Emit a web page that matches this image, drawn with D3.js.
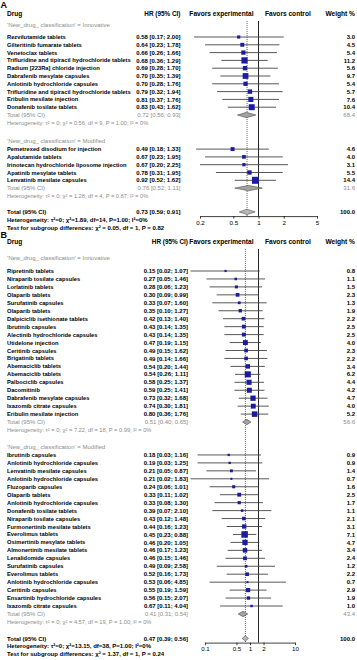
<!DOCTYPE html>
<html>
<head>
<meta charset="utf-8">
<script src="https://cdn.jsdelivr.net/npm/d3@7"></script>
<style>
  body { margin: 0; background: #fff; }
  text { font-family: "Liberation Sans", Arial, sans-serif; }
</style>
</head>
<body>
<svg id="chart" width="357" height="660"></svg>
<script>
// Rows are [drug, HR, lower, upper, weight %].
const aInnovative = [
  ["Rezvilutamide tablets", 0.58, 0.17, 2.00, 3.0],
  ["Gilteritinib fumarate tablets", 0.64, 0.23, 1.78, 4.5],
  ["Venetoclax tablets", 0.66, 0.26, 1.66, 5.4],
  ["Trifluridine and tipiracil hydrochloride tablets", 0.68, 0.36, 1.29, 11.2],
  ["Radium [223Ra] chloride injection", 0.69, 0.28, 1.70, 5.6],
  ["Dabrafenib mesylate capsules", 0.70, 0.35, 1.39, 9.7],
  ["Anlotinib hydrochloride capsules", 0.70, 0.28, 1.76, 5.4],
  ["Trifluridine and tipiracil hydrochloride tablets", 0.79, 0.32, 1.94, 5.7],
  ["Eribulin mesilate injection", 0.81, 0.37, 1.76, 7.6],
  ["Donafenib tosilate tablets", 0.83, 0.43, 1.62, 10.4]
];
const aModified = [
  ["Pemetrexed disodium for injection", 0.49, 0.18, 1.33, 4.6],
  ["Apalutamide tablets", 0.67, 0.23, 1.95, 4.0],
  ["Irinotecan hydrochloride liposome injection", 0.67, 0.20, 2.25, 3.1],
  ["Apatinib mesylate tablets", 0.78, 0.31, 1.95, 5.5],
  ["Lenvatinib mesilate capsules", 0.92, 0.52, 1.62, 14.4]
];
const bInnovative = [
  ["Ripretinib tablets", 0.15, 0.02, 1.07, 0.8],
  ["Niraparib tosilate capsules", 0.27, 0.05, 1.46, 1.1],
  ["Lorlatinib tablets", 0.28, 0.06, 1.23, 1.5],
  ["Olaparib tablets", 0.30, 0.09, 0.99, 2.3],
  ["Surufatinib capsules", 0.33, 0.07, 1.60, 1.3],
  ["Olaparib tablets", 0.35, 0.10, 1.27, 1.9],
  ["Dalpiciclib isethionate tablets", 0.42, 0.13, 1.40, 2.2],
  ["Ibrutinib capsules", 0.43, 0.14, 1.35, 2.5],
  ["Alectinib hydrochloride capsules", 0.43, 0.14, 1.35, 2.5],
  ["Utidelone injection", 0.47, 0.19, 1.15, 4.0],
  ["Ceritinib capsules", 0.49, 0.15, 1.62, 2.3],
  ["Brigatinib tablets", 0.49, 0.14, 1.66, 2.2],
  ["Abemaciclib tablets", 0.54, 0.20, 1.44, 3.4],
  ["Abemaciclib tablets", 0.54, 0.26, 1.11, 6.2],
  ["Palbociclib capsules", 0.58, 0.25, 1.37, 4.4],
  ["Dacomitinib", 0.59, 0.25, 1.41, 4.2],
  ["Dabrafenib mesylate capsules", 0.73, 0.32, 1.68, 4.7],
  ["Ixazomib citrate capsules", 0.74, 0.30, 1.81, 4.0],
  ["Eribulin mesilate injection", 0.80, 0.36, 1.76, 5.2]
];
const bModified = [
  ["Ibrutinib capsules", 0.18, 0.03, 1.16, 0.9],
  ["Anlotinib hydrochloride capsules", 0.19, 0.03, 1.25, 0.9],
  ["Lenvatinib mesilate capsules", 0.21, 0.05, 0.87, 1.4],
  ["Anlotinib hydrochloride capsules", 0.21, 0.02, 1.83, 0.7],
  ["Fluzoparib capsules", 0.24, 0.06, 1.01, 1.6],
  ["Olaparib tablets", 0.33, 0.11, 1.02, 2.5],
  ["Anlotinib hydrochloride capsules", 0.33, 0.08, 1.30, 1.7],
  ["Donafenib tosilate tablets", 0.39, 0.07, 2.10, 1.1],
  ["Niraparib tosilate capsules", 0.43, 0.12, 1.48, 2.1],
  ["Furmonertinib mesilate tablets", 0.44, 0.16, 1.23, 3.1],
  ["Everolimus tablets", 0.45, 0.23, 0.88, 7.1],
  ["Osimertinib mesylate tablets", 0.46, 0.20, 1.05, 4.7],
  ["Almonertinib mesilate tablets", 0.46, 0.17, 1.23, 3.4],
  ["Lenalidomide capsules", 0.46, 0.15, 1.46, 2.4],
  ["Surufatinib capsules", 0.49, 0.09, 2.58, 1.2],
  ["Everolimus tablets", 0.52, 0.16, 1.73, 2.2],
  ["Anlotinib hydrochloride capsules", 0.53, 0.06, 4.85, 0.7],
  ["Ceritinib capsules", 0.55, 0.19, 1.59, 2.9],
  ["Ensartinib hydrochloride capsules", 0.56, 0.15, 2.07, 1.9],
  ["Ixazomib citrate capsules", 0.67, 0.11, 4.04, 1.0]
];

// Pooled estimates: [HR, lower, upper, weight %].
const aTotals = [[0.72, 0.56, 0.93, 68.4], [0.76, 0.52, 1.11, 31.6]];
const bTotals = [[0.51, 0.40, 0.65, 56.6], [0.41, 0.31, 0.54, 43.4]];
const aOverall = [0.73, 0.59, 0.91, 100.0];
const bOverall = [0.47, 0.39, 0.56, 100.0];

const groupLabels = ["'New_drug_ classification' = Innovative", "'New_drug_ classification' = Modified"];
const aHet = ["Heterogeneity: \u03c4\u00b2 = 0; \u03c7\u00b2 = 0.56, df = 9, P = 1.00; I\u00b2 = 0%",
              "Heterogeneity: \u03c4\u00b2 = 0; \u03c7\u00b2 = 1.28, df = 4, P = 0.87; I\u00b2 = 0%"];
const bHet = ["Heterogeneity: \u03c4\u00b2 = 0; \u03c7\u00b2 = 7.22, df = 18, P = 0.99; I\u00b2 = 0%",
              "Heterogeneity: \u03c4\u00b2 = 0; \u03c7\u00b2 = 4.57, df = 19, P = 1.00; I\u00b2 = 0%"];
const aOverallHet = "Heterogeneity: \u03c4\u00b2=0; \u03c7\u00b2=1.89, df=14, P=1.00; I\u00b2=0%";
const bOverallHet = "Heterogeneity: \u03c4\u00b2=0; \u03c7\u00b2=13.15, df=38, P=1.00; I\u00b2=0%";
const aTest = "Test for subgroup differences: \u03c7\u00b2 = 0.05, df = 1, P = 0.82";
const bTest = "Test for subgroup differences: \u03c7\u00b2 = 1.37, df = 1, P = 0.24";
const aTicks = [0.2, 0.5, 1, 2, 5];
const bTicks = [0.1, 0.5, 1, 2, 10];

const svg = d3.select("#chart");
const grey = "#8c8c8c";
const blue = "#1c1ca0";
const fmtHR = (r) => `${r[0].toFixed(2)} [${r[1].toFixed(2)}; ${r[2].toFixed(2)}]`;

function drawPanel(p) {
  const g = svg.append("g");
  const x = d3.scaleLog().domain(d3.extent(p.ticks)).range(p.range);
  // The printed axis of panel B sits a little off the marks in the source figure.
  const xAxisScale = d3.scaleLog().domain(d3.extent(p.ticks)).range(p.axisRange || p.range);
  const step = p.step;
  const txt = (xp, y, s, anchor, size, weight, color) =>
    g.append("text").attr("x", xp).attr("y", y).attr("dy", "0.35em")
      .attr("text-anchor", anchor).attr("font-size", size)
      .attr("font-weight", weight).attr("fill", color).text(s);

  txt(0.5, p.letterY, p.letter, "start", "9px", "bold", "#000");
  // Header row.
  txt(7, p.headerY, "Drug", "start", "6.6px", "bold", "#000");
  txt(p.hrRight, p.headerY, "HR (95% CI)", "end", "6.4px", "bold", "#000");
  txt(x(1) - 5, p.headerY, "Favors experimental", "end", "6.6px", "bold", "#000");
  txt(x(1) + 6.5, p.headerY, "Favors control", "start", "6.6px", "bold", "#000");
  txt(355, p.headerY, "Weight %", "end", "6.6px", "bold", "#000");

  const maxW = d3.max(p.groups.flatMap(gr => gr.rows), d => d[4]);
  const box = d3.scaleSqrt().domain([0, maxW]).range([0, p.maxBox]);
  const diamond = (r, y, h) => [[x(r[1]), y], [x(r[0]), y - h], [x(r[2]), y], [x(r[0]), y + h]].join(" ");

  let y = p.labelY;
  const marks = g.append("g");
  p.groups.forEach((gr, gi) => {
    if (gi > 0) y += p.groupGap;
    txt(7, y, gr.label, "start", "6px", "normal", grey);
    y += gi === 0 ? p.firstGap : step;
    gr.rows.forEach(r => {
      txt(7, y, r[0], "start", "5.75px", "bold", "#000");
      txt(p.hrRight, y, fmtHR(r.slice(1)), "end", "6px", "bold", "#000");
      txt(355, y, r[4].toFixed(1), "end", "6px", "bold", "#000");
      marks.append("line")
        .attr("x1", x(r[2])).attr("x2", x(r[3])).attr("y1", y).attr("y2", y)
        .attr("stroke", "#3a3a3a").attr("stroke-width", 0.85);
      const s = box(r[4]);
      marks.append("rect")
        .attr("x", x(r[1]) - s / 2).attr("y", y - s / 2)
        .attr("width", s).attr("height", s).attr("fill", blue);
      y += step;
    });
    txt(7, y, "Total (95% CI)", "start", "6px", "normal", grey);
    txt(p.hrRight, y, fmtHR(gr.total), "end", "6px", "normal", grey);
    txt(355, y, gr.total[3].toFixed(1), "end", "6px", "normal", grey);
    marks.append("polygon").attr("points", diamond(gr.total, y, 2.7))
      .attr("fill", "#a3a3a3").attr("stroke", "#333").attr("stroke-width", 0.5);
    y += step;
    txt(7, y, gr.het, "start", "5.7px", "normal", grey);
  });

  y += p.overallGap;
  const totalY = y;
  txt(7, y, "Total (95% CI)", "start", "6px", "bold", "#000");
  txt(p.hrRight, y, fmtHR(p.overall), "end", "6px", "bold", "#000");
  txt(355, y, p.overall[3].toFixed(1), "end", "6px", "bold", "#000");
  y += step;
  txt(7, y, p.overallHet, "start", "6px", "bold", "#000");
  y += step;
  txt(7, y, p.test, "start", "6px", "bold", "#000");

  const axisY = totalY + 4.2;
  const topY = p.headerY + 7;
  // Null line and pooled-estimate dotted line.
  g.insert("line", ":first-child")
    .attr("x1", x(1)).attr("x2", x(1)).attr("y1", topY).attr("y2", axisY)
    .attr("stroke", "#000").attr("stroke-width", 0.85);
  g.insert("line", ":first-child")
    .attr("x1", x(p.overall[0])).attr("x2", x(p.overall[0])).attr("y1", topY).attr("y2", axisY)
    .attr("stroke", "#000").attr("stroke-width", 0.6).attr("stroke-dasharray", "1,1");
  marks.append("polygon").attr("points", diamond(p.overall, totalY, 2.7))
    .attr("fill", "#b8b8b8").attr("stroke", "#333").attr("stroke-width", 0.5);

  const axis = g.append("g")
    .attr("transform", `translate(0,${axisY})`)
    .call(d3.axisBottom(xAxisScale).tickValues(p.ticks).tickFormat(d => d).tickSize(2.6).tickSizeOuter(0).tickPadding(1.5));
  axis.select(".domain").attr("stroke", "#000").attr("stroke-width", 0.75);
  axis.selectAll(".tick line").attr("stroke", "#000").attr("stroke-width", 0.75);
  axis.selectAll(".tick text").attr("font-size", "6.2px").attr("fill", "#000")
    .attr("font-family", "Liberation Sans, Arial, sans-serif");
}

drawPanel({
  letter: "A", letterY: 4.5, headerY: 14, labelY: 24.5, firstGap: 12.5, step: 7.8,
  groupGap: 18.5, overallGap: 16, hrRight: 180.5, range: [200, 317], ticks: aTicks, maxBox: 7,
  groups: [
    { label: groupLabels[0], rows: aInnovative, total: aTotals[0], het: aHet[0] },
    { label: groupLabels[1], rows: aModified, total: aTotals[1], het: aHet[1] }
  ],
  overall: aOverall, overallHet: aOverallHet, test: aTest
});

drawPanel({
  letter: "B", letterY: 234.5, headerY: 242, labelY: 257.5, firstGap: 13.5, step: 7.95,
  groupGap: 17, overallGap: 16.5, hrRight: 188, range: [218.5, 298.5], axisRange: [205, 295],
  ticks: bTicks, maxBox: 6.5,
  groups: [
    { label: groupLabels[0], rows: bInnovative, total: bTotals[0], het: bHet[0] },
    { label: groupLabels[1], rows: bModified, total: bTotals[1], het: bHet[1] }
  ],
  overall: bOverall, overallHet: bOverallHet, test: bTest
});
</script>
</body>
</html>
